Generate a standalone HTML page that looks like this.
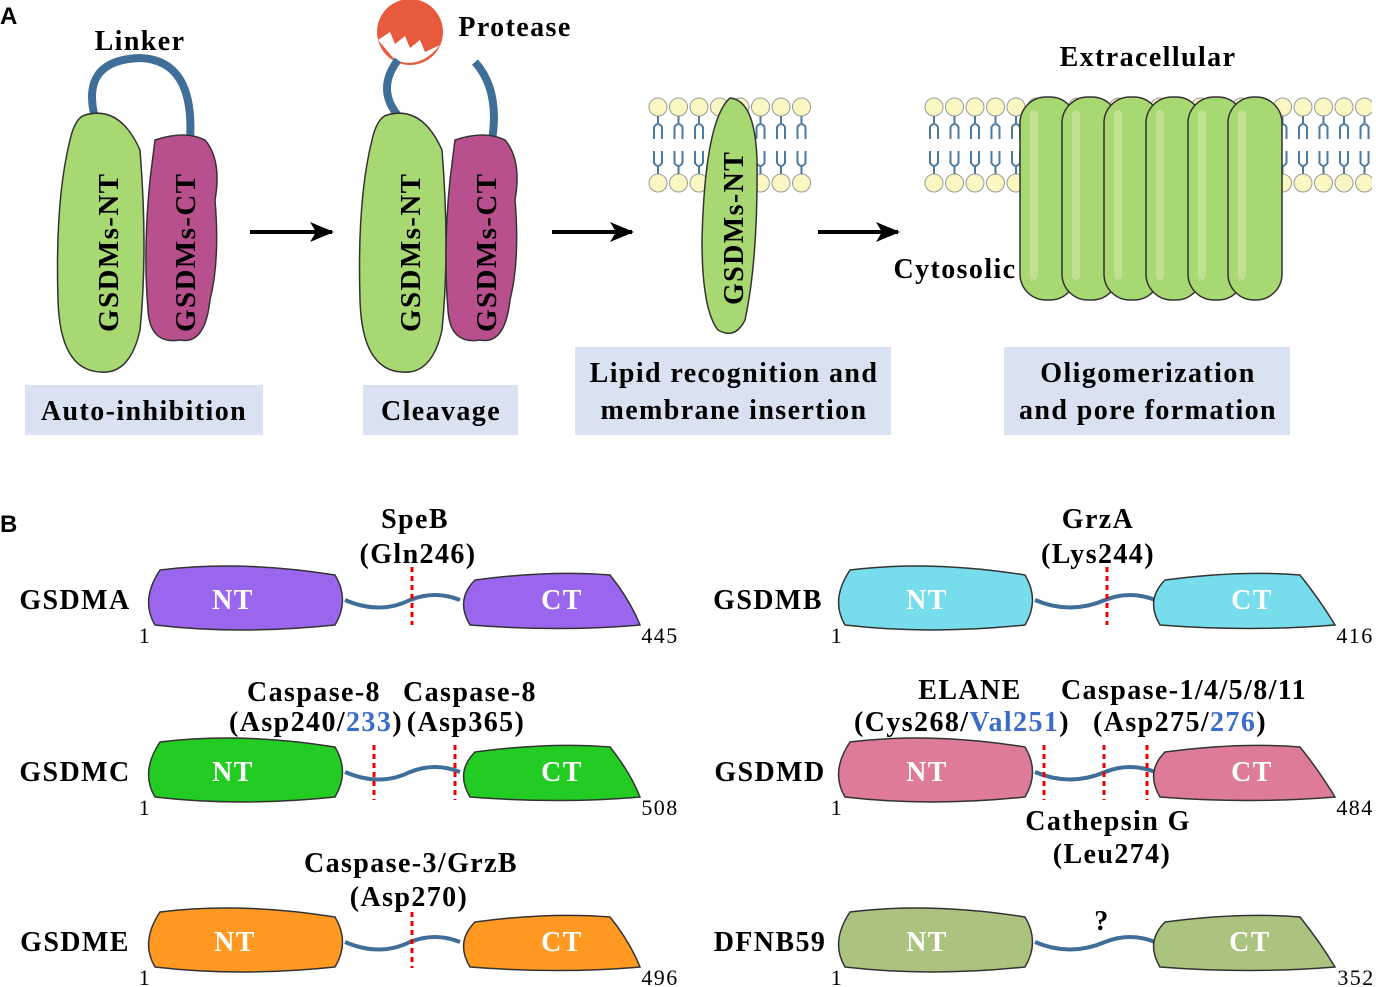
<!DOCTYPE html>
<html><head><meta charset="utf-8"><style>
html,body{margin:0;padding:0;background:#fff}
svg{display:block}
text{font-family:"Liberation Serif",serif;font-weight:bold;letter-spacing:1.4px}
</style></head><body>
<svg width="1376" height="987" viewBox="0 0 1376 987" xmlns="http://www.w3.org/2000/svg">
<defs>
<pattern id="lip" x="648" y="97" width="20.5" height="98" patternUnits="userSpaceOnUse">
<circle cx="10" cy="10" r="9" fill="#fbf7c2" stroke="#999" stroke-width="1"/>
<circle cx="10" cy="86" r="9" fill="#fbf7c2" stroke="#999" stroke-width="1"/>
<path d="M10 19 V26 M6 42 V30 Q10 24 14 30 V42 M6 54 V66 Q10 72 14 66 V54 M10 68 V77" stroke="#4a7aa0" stroke-width="2" fill="none"/>
</pattern>
<pattern id="lip2" x="924" y="97" width="20.5" height="98" patternUnits="userSpaceOnUse">
<circle cx="10" cy="10" r="9" fill="#fbf7c2" stroke="#999" stroke-width="1"/>
<circle cx="10" cy="86" r="9" fill="#fbf7c2" stroke="#999" stroke-width="1"/>
<path d="M10 19 V26 M6 42 V30 Q10 24 14 30 V42 M6 54 V66 Q10 72 14 66 V54 M10 68 V77" stroke="#4a7aa0" stroke-width="2" fill="none"/>
</pattern>
<marker id="ar" markerUnits="userSpaceOnUse" markerWidth="24" markerHeight="20" refX="22" refY="10" orient="auto"><path d="M0 0 L24 10 L0 20 L6 10Z" fill="#000"/></marker>
</defs>

<!-- Panel A -->
<text x="0" y="24" font-size="24" style="font-family:'Liberation Sans',sans-serif;letter-spacing:0">A</text>
<text x="140" y="50" font-size="28" text-anchor="middle">Linker</text>
<path d="M95 118 Q80 60 140 58 Q195 60 190 140" stroke="#3f6e98" stroke-width="8" fill="none"/>
<path d="M85 115 Q120 105 140 150 Q148 250 140 330 Q130 375 100 372 Q60 370 58 300 Q55 200 70 140 Q75 118 85 115Z" fill="#a8d872" stroke="#333" stroke-width="1.5"/>
<path d="M155 140 Q185 130 205 140 Q222 160 215 200 Q220 260 210 300 Q205 345 180 340 Q150 345 148 310 Q143 250 150 180Z" fill="#b8508e" stroke="#333" stroke-width="1.5"/>
<text transform="translate(118,332) rotate(-90)" font-size="29">GSDMs-NT</text>
<text transform="translate(195,332) rotate(-90)" font-size="29">GSDMs-CT</text>
<line x1="250" y1="232" x2="332" y2="232" stroke="#000" stroke-width="4" marker-end="url(#ar)"/>

<circle cx="410" cy="32" r="33" fill="#e85a3e"/>
<path d="M378 40 L390 32 L395 44 L405 36 L410 48 L420 40 L425 52 L440 45 Q420 70 395 60Z" fill="#fff"/>
<text x="515" y="36" font-size="28" text-anchor="middle">Protease</text>
<path d="M400 118 Q375 90 398 60" stroke="#3f6e98" stroke-width="8" fill="none"/>
<path d="M475 62 Q500 90 492 140" stroke="#3f6e98" stroke-width="8" fill="none"/>
<path d="M387 115 Q422 105 442 150 Q450 250 442 330 Q432 375 402 372 Q362 370 360 300 Q357 200 372 140 Q377 118 387 115Z" fill="#a8d872" stroke="#333" stroke-width="1.5"/>
<path d="M455 140 Q485 130 505 140 Q522 160 515 200 Q520 260 510 300 Q505 345 480 340 Q450 345 448 310 Q443 250 450 180Z" fill="#b8508e" stroke="#333" stroke-width="1.5"/>
<text transform="translate(420,332) rotate(-90)" font-size="29">GSDMs-NT</text>
<text transform="translate(496,332) rotate(-90)" font-size="29">GSDMs-CT</text>
<line x1="552" y1="232" x2="632" y2="232" stroke="#000" stroke-width="4" marker-end="url(#ar)"/>

<rect x="648" y="97" width="164" height="98" fill="url(#lip)"/>
<path d="M730 98 Q755 100 757 160 Q758 260 745 320 Q735 340 718 330 Q702 310 702 240 Q705 120 730 98Z" fill="#a8d872" stroke="#333" stroke-width="1.5"/>
<text transform="translate(743,305) rotate(-90)" font-size="28">GSDMs-NT</text>
<line x1="818" y1="232" x2="898" y2="232" stroke="#000" stroke-width="4" marker-end="url(#ar)"/>

<text x="1148" y="66" font-size="28" text-anchor="middle">Extracellular</text>
<text x="955" y="278" font-size="28" text-anchor="middle">Cytosolic</text>
<rect x="924" y="97" width="448" height="98" fill="url(#lip2)"/>
<g fill="#a8d872" stroke="#333" stroke-width="1.5">
<rect x="1020" y="97" width="56" height="203" rx="26"/>
<rect x="1062" y="97" width="56" height="203" rx="26"/>
<rect x="1104" y="97" width="56" height="203" rx="26"/>
<rect x="1146" y="97" width="56" height="203" rx="26"/>
<rect x="1188" y="97" width="56" height="203" rx="26"/>
<rect x="1228" y="97" width="54" height="203" rx="26"/>
</g>
<g fill="#c4e49a" opacity="0.8">
<rect x="1030" y="110" width="8" height="170" rx="4"/>
<rect x="1072" y="110" width="8" height="170" rx="4"/>
<rect x="1114" y="110" width="8" height="170" rx="4"/>
<rect x="1156" y="110" width="8" height="170" rx="4"/>
<rect x="1198" y="110" width="8" height="170" rx="4"/>
<rect x="1238" y="110" width="8" height="170" rx="4"/>
</g>

<g fill="#d9e2f1">
<rect x="25" y="385" width="238" height="50"/>
<rect x="363" y="385" width="155" height="50"/>
<rect x="575" y="347" width="316" height="88"/>
<rect x="1004" y="347" width="286" height="88"/>
</g>
<g font-size="28" text-anchor="middle">
<text x="144" y="420">Auto-inhibition</text>
<text x="441" y="420">Cleavage</text>
<text x="734" y="382">Lipid recognition and</text>
<text x="734" y="419">membrane insertion</text>
<text x="1148" y="382">Oligomerization</text>
<text x="1148" y="419">and pore formation</text>
</g>

<!-- Panel B -->
<text x="0" y="532" font-size="24" style="font-family:'Liberation Sans',sans-serif;letter-spacing:0">B</text>

<g font-size="28" text-anchor="middle">
<!-- GSDMA -->
<text x="75" y="609">GSDMA</text>
<path d="M345 600 Q380 615 410 600 Q435 590 460 600" stroke="#3f6e98" stroke-width="4" fill="none"/>
<path d="M160 570 Q240 560 335 575 Q350 600 335 625 Q240 635 155 625 Q140 600 160 570Z" fill="#9a66ee" stroke="#333" stroke-width="1.5"/>
<path d="M475 580 Q550 570 610 575 Q630 600 640 625 Q560 632 470 625 Q455 600 475 580Z" fill="#9a66ee" stroke="#333" stroke-width="1.5"/>
<text x="233" y="609" fill="#fff">NT</text><text x="562" y="609" fill="#fff">CT</text>
<line x1="412" y1="567" x2="412" y2="625" stroke="#e00" stroke-width="3" stroke-dasharray="5,4"/>
<text x="415" y="528">SpeB</text><text x="418" y="563">(Gln246)</text>
<text x="145" y="643" font-size="22" style="font-weight:normal">1</text>
<text x="660" y="643" style="font-weight:normal" font-size="22">445</text>

<!-- GSDMB -->
<text x="768" y="609">GSDMB</text>
<path d="M1035 600 Q1070 615 1105 600 Q1130 590 1155 600" stroke="#3f6e98" stroke-width="4" fill="none"/>
<path d="M850 570 Q930 560 1025 575 Q1040 600 1025 625 Q930 635 845 625 Q830 600 850 570Z" fill="#77dcec" stroke="#333" stroke-width="1.5"/>
<path d="M1165 580 Q1240 570 1300 575 Q1320 600 1335 625 Q1250 632 1160 625 Q1145 600 1165 580Z" fill="#77dcec" stroke="#333" stroke-width="1.5"/>
<text x="927" y="609" fill="#fff">NT</text><text x="1252" y="609" fill="#fff">CT</text>
<line x1="1107" y1="567" x2="1107" y2="625" stroke="#e00" stroke-width="3" stroke-dasharray="5,4"/>
<text x="1098" y="528">GrzA</text><text x="1098" y="563">(Lys244)</text>
<text x="837" y="643" style="font-weight:normal" font-size="22">1</text>
<text x="1355" y="643" style="font-weight:normal" font-size="22">416</text>

<!-- GSDMC -->
<text x="75" y="781">GSDMC</text>
<path d="M345 772 Q380 787 410 772 Q435 762 460 772" stroke="#3f6e98" stroke-width="4" fill="none"/>
<path d="M160 742 Q240 732 335 747 Q350 772 335 797 Q240 807 155 797 Q140 772 160 742Z" fill="#22cc22" stroke="#333" stroke-width="1.5"/>
<path d="M475 752 Q550 742 610 747 Q630 772 640 797 Q560 804 470 797 Q455 772 475 752Z" fill="#22cc22" stroke="#333" stroke-width="1.5"/>
<text x="233" y="781" fill="#fff">NT</text><text x="562" y="781" fill="#fff">CT</text>
<line x1="374" y1="745" x2="374" y2="800" stroke="#e00" stroke-width="3" stroke-dasharray="5,4"/>
<line x1="455" y1="745" x2="455" y2="800" stroke="#e00" stroke-width="3" stroke-dasharray="5,4"/>
<text x="314" y="701">Caspase-8</text>
<text x="316" y="731">(Asp240/<tspan fill="#3a6cc8">233</tspan>)</text>
<text x="470" y="701">Caspase-8</text><text x="466" y="731">(Asp365)</text>
<text x="145" y="815" style="font-weight:normal" font-size="22">1</text>
<text x="660" y="815" style="font-weight:normal" font-size="22">508</text>

<!-- GSDMD -->
<text x="770" y="781">GSDMD</text>
<path d="M1035 772 Q1070 787 1105 772 Q1130 762 1155 772" stroke="#3f6e98" stroke-width="4" fill="none"/>
<path d="M850 742 Q930 732 1025 747 Q1040 772 1025 797 Q930 807 845 797 Q830 772 850 742Z" fill="#dd7b98" stroke="#333" stroke-width="1.5"/>
<path d="M1165 752 Q1240 742 1300 747 Q1320 772 1335 797 Q1250 804 1160 797 Q1145 772 1165 752Z" fill="#dd7b98" stroke="#333" stroke-width="1.5"/>
<text x="927" y="781" fill="#fff">NT</text><text x="1252" y="781" fill="#fff">CT</text>
<line x1="1044" y1="745" x2="1044" y2="800" stroke="#e00" stroke-width="3" stroke-dasharray="5,4"/>
<line x1="1104" y1="745" x2="1104" y2="800" stroke="#e00" stroke-width="3" stroke-dasharray="5,4"/>
<line x1="1147" y1="745" x2="1147" y2="800" stroke="#e00" stroke-width="3" stroke-dasharray="5,4"/>
<text x="970" y="699">ELANE</text>
<text x="962" y="731">(Cys268/<tspan fill="#3a6cc8">Val251</tspan>)</text>
<text x="1184" y="699">Caspase-1/4/5/8/11</text>
<text x="1180" y="731">(Asp275/<tspan fill="#3a6cc8">276</tspan>)</text>
<text x="1108" y="830">Cathepsin G</text><text x="1112" y="863">(Leu274)</text>
<text x="837" y="815" style="font-weight:normal" font-size="22">1</text>
<text x="1355" y="815" style="font-weight:normal" font-size="22">484</text>

<!-- GSDME -->
<text x="75" y="951">GSDME</text>
<path d="M345 942 Q380 957 410 942 Q435 932 460 942" stroke="#3f6e98" stroke-width="4" fill="none"/>
<path d="M160 912 Q240 902 335 917 Q350 942 335 967 Q240 977 155 967 Q140 942 160 912Z" fill="#ff9922" stroke="#333" stroke-width="1.5"/>
<path d="M475 922 Q550 912 610 917 Q630 942 640 967 Q560 974 470 967 Q455 942 475 922Z" fill="#ff9922" stroke="#333" stroke-width="1.5"/>
<text x="235" y="951" fill="#fff">NT</text><text x="562" y="951" fill="#fff">CT</text>
<line x1="412" y1="912" x2="412" y2="968" stroke="#e00" stroke-width="3" stroke-dasharray="5,4"/>
<text x="411" y="872">Caspase-3/GrzB</text><text x="409" y="906">(Asp270)</text>
<text x="145" y="985" style="font-weight:normal" font-size="22">1</text>
<text x="660" y="985" style="font-weight:normal" font-size="22">496</text>

<!-- DFNB59 -->
<text x="770" y="951">DFNB59</text>
<path d="M1035 942 Q1070 957 1105 942 Q1130 932 1155 942" stroke="#3f6e98" stroke-width="4" fill="none"/>
<path d="M850 912 Q930 902 1025 917 Q1040 942 1025 967 Q930 977 845 967 Q830 942 850 912Z" fill="#aac47f" stroke="#333" stroke-width="1.5"/>
<path d="M1165 922 Q1240 912 1300 917 Q1320 942 1335 967 Q1250 974 1160 967 Q1145 942 1165 922Z" fill="#aac47f" stroke="#333" stroke-width="1.5"/>
<text x="927" y="951" fill="#fff">NT</text><text x="1250" y="951" fill="#fff">CT</text>
<text x="1102" y="930">?</text>
<text x="837" y="985" style="font-weight:normal" font-size="22">1</text>
<text x="1356" y="985" style="font-weight:normal" font-size="22">352</text>
</g>
</svg>
</body></html>
